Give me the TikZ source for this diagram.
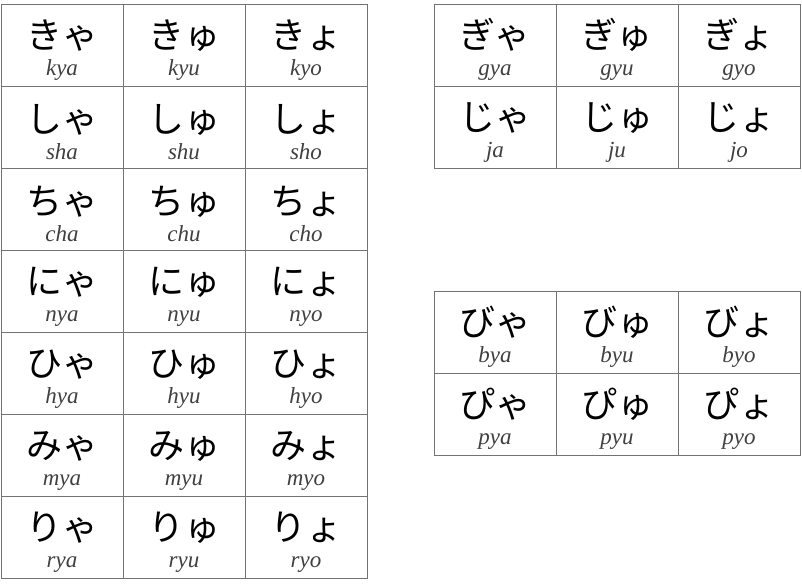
\documentclass[tikz,border=0pt]{standalone}
\usepackage{fontspec}
\setmainfont{Liberation Serif}
\newfontfamily\kana{Noto Sans CJK JP}
\usetikzlibrary{positioning}
\newcommand{\kn}[1]{{\kana\fontsize{36}{36}\selectfont\color{black}\rule{0pt}{38pt}#1}}

\begin{document}
\begin{tikzpicture}[every node/.style={rectangle,draw=black!55,line width=0.8pt,minimum width=122pt,minimum height=82pt,inner sep=0pt,outer sep=0pt,align=center,text=black!75,font=\fontsize{23}{27}\selectfont\itshape}]
  \useasboundingbox (0,0) rectangle (802pt,-585pt);
  \node(kya)[anchor=north west] at (1pt,-4pt) {\kn{きゃ}\\kya};
  \node(kyu)[right=0pt of kya]{\kn{きゅ}\\kyu};
  \node(kyo)[right=0pt of kyu]{\kn{きょ}\\kyo};
%
  \node(sha)[below=0pt of kya]{\kn{しゃ}\\sha};
  \node(shu)[right=0pt of sha]{\kn{しゅ}\\shu};
  \node(sho)[right=0pt of shu]{\kn{しょ}\\sho};
%
  \node(cha)[below=0pt of sha]{\kn{ちゃ}\\cha};
  \node(chu)[right=0pt of cha]{\kn{ちゅ}\\chu};
  \node(cho)[right=0pt of chu]{\kn{ちょ}\\cho};
%
  \node(nya)[below=0pt of cha]{\kn{にゃ}\\nya};
  \node(nyu)[right=0pt of nya]{\kn{にゅ}\\nyu};
  \node(nyo)[right=0pt of nyu]{\kn{にょ}\\nyo};
%
  \node(hya)[below=0pt of nya]{\kn{ひゃ}\\hya};
  \node(hyu)[right=0pt of hya]{\kn{ひゅ}\\hyu};
  \node(hyo)[right=0pt of hyu]{\kn{ひょ}\\hyo};
%
  \node(mya)[below=0pt of hya]{\kn{みゃ}\\mya};
  \node(myu)[right=0pt of mya]{\kn{みゅ}\\myu};
  \node(myo)[right=0pt of myu]{\kn{みょ}\\myo};
%
  \node(rya)[below=0pt of mya]{\kn{りゃ}\\rya};
  \node(ryu)[right=0pt of rya]{\kn{りゅ}\\ryu};
  \node(ryo)[right=0pt of ryu]{\kn{りょ}\\ryo};
%
  \node(gya)[right=67pt of kyo]{\kn{ぎゃ}\\gya};
  \node(gyu)[right=0pt of gya]{\kn{ぎゅ}\\gyu};
  \node(gyo)[right=0pt of gyu]{\kn{ぎょ}\\gyo};
  \node(ja)[below=0pt of gya]{\kn{じゃ}\\ja};
  \node(ju)[right=0pt of ja]{\kn{じゅ}\\ju};
  \node(jo)[right=0pt of ju]{\kn{じょ}\\jo};
%
  \node(bya)[below=123pt of ja]{\kn{びゃ}\\bya};
  \node(byu)[right=0pt of bya]{\kn{びゅ}\\byu};
  \node(byo)[right=0pt of byu]{\kn{びょ}\\byo};
  \node(pya)[below=0pt of bya]{\kn{ぴゃ}\\pya};
  \node(pyu)[right=0pt of pya]{\kn{ぴゅ}\\pyu};
  \node(pyo)[right=0pt of pyu]{\kn{ぴょ}\\pyo};
\end{tikzpicture}
\end{document}
